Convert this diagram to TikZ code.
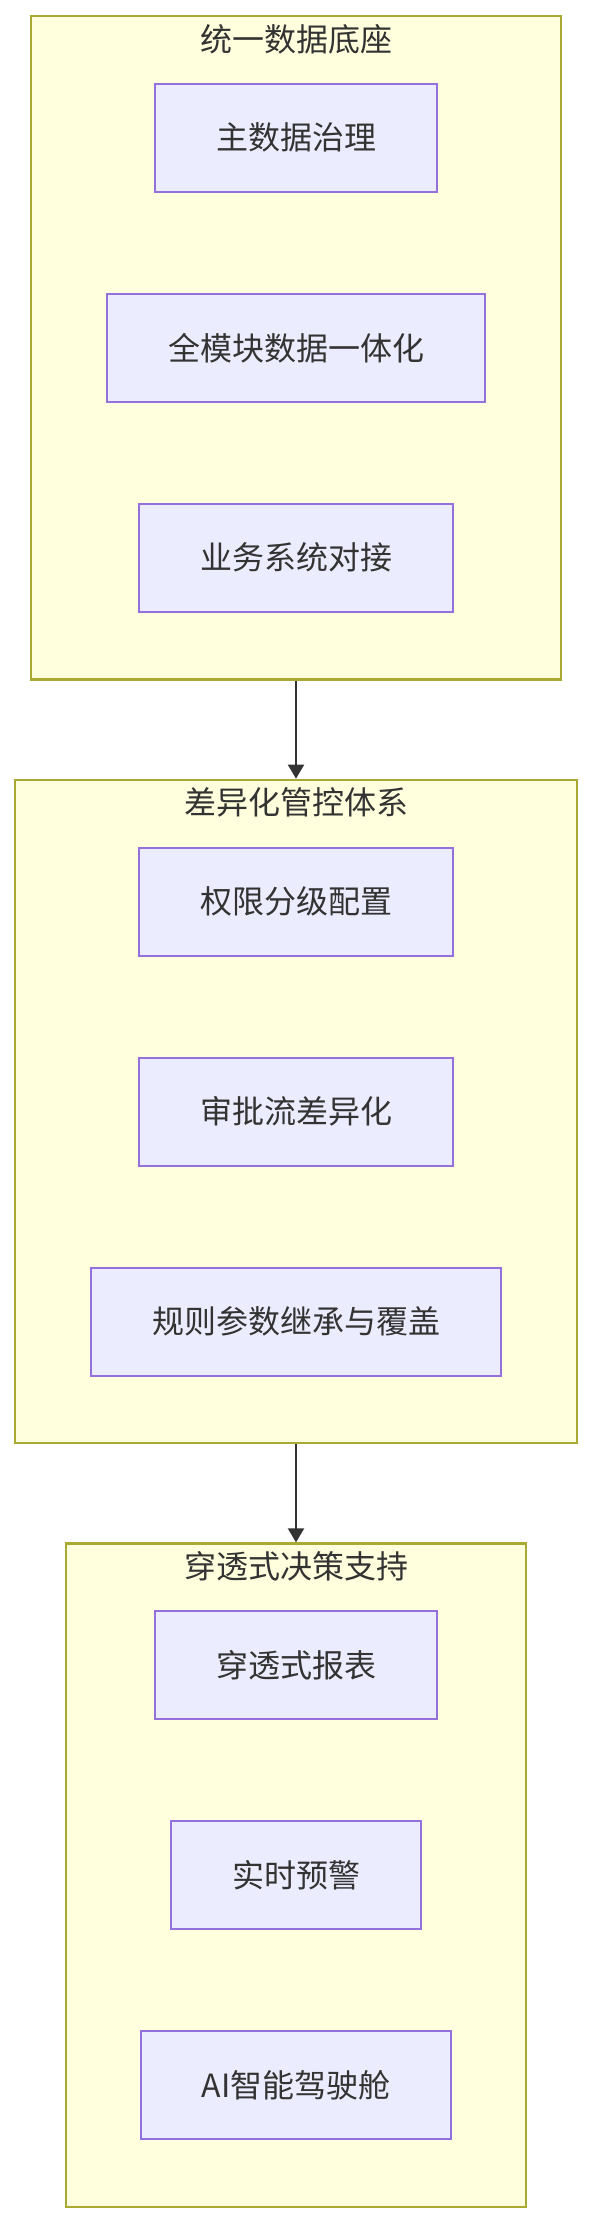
\documentclass[tikz,border=0pt]{standalone}
\usepackage{fontspec}
\setmainfont{Noto Sans CJK SC}
\usetikzlibrary{positioning,arrows.meta}
\definecolor{clusterfill}{HTML}{FFFFDE}
\definecolor{clusterline}{HTML}{AAAA33}
\definecolor{itemfill}{HTML}{ECECFF}
\definecolor{itemline}{HTML}{9370DB}
\definecolor{ink}{HTML}{333333}
\begin{document}
\begin{tikzpicture}[
  x=1pt, y=-1pt,
  node distance=100pt,
  font=\fontsize{32}{38}\selectfont, text=ink,
  cluster/.style={draw=clusterline, fill=clusterfill, line width=2.2pt, minimum height=663.5pt, inner sep=0pt},
  item/.style={draw=itemline, fill=itemfill, line width=2pt, minimum height=108pt, inner xsep=61pt, inner ysep=0pt},
  title/.style={inner sep=0pt},
  link/.style={draw=ink, line width=2pt, -{Triangle[length=14pt,width=16pt]}}
]
  \useasboundingbox (0,0) rectangle (590,2224);
  % clusters
  \node[cluster, minimum width=529.5pt] (base) at (296,347.8) {};
  \node[cluster, minimum width=561.3pt, below=98pt of base] (ctrl) {};
  \node[cluster, minimum width=460.7pt, below=98pt of ctrl] (deci) {};
  \node[title] (baset) at ([yshift=-24pt]base.north) {统一数据底座};
  \node[title] (ctrlt) at ([yshift=-24pt]ctrl.north) {差异化管控体系};
  \node[title] (decit) at ([yshift=-24pt]deci.north) {穿透式决策支持};
  % items
  \node[item] (unify) at (base.center) {全模块数据一体化};
  \node[item, above=of unify] (master) {主数据治理};
  \node[item, below=of unify] (dock) {业务系统对接};
  \node[item] (flow) at (ctrl.center) {审批流差异化};
  \node[item, above=of flow] (perm) {权限分级配置};
  \node[item, below=of flow] (rule) {规则参数继承与覆盖};
  \node[item] (alert) at (deci.center) {实时预警};
  \node[item, above=of alert] (report) {穿透式报表};
  \node[item, below=of alert] (cockpit) {AI智能驾驶舱};
  % links
  \draw[link] (base.south) -- (ctrl.north);
  \draw[link] (ctrl.south) -- (deci.north);
\end{tikzpicture}
\end{document}
